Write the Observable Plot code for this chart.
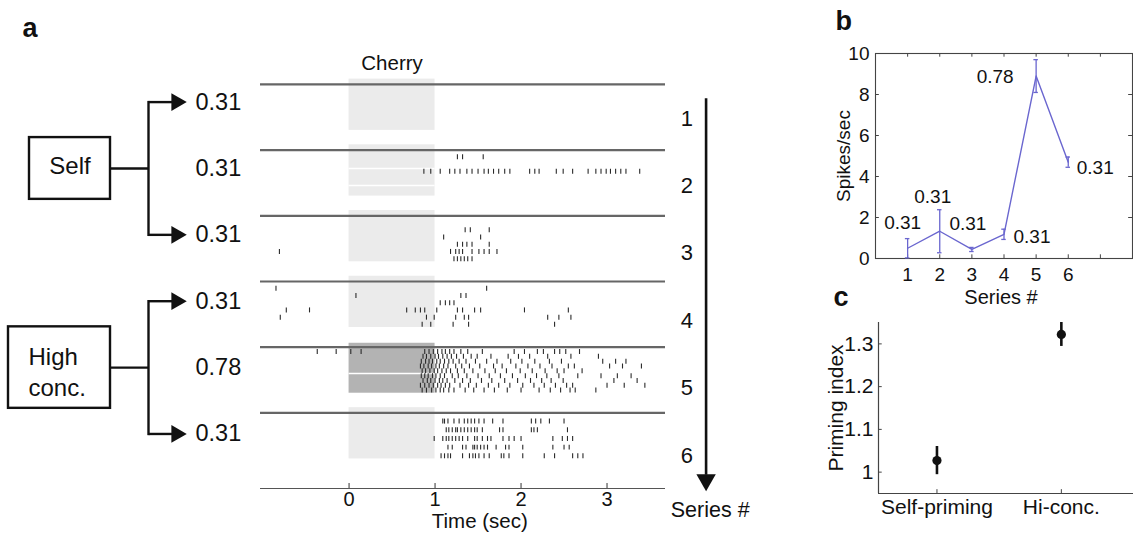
<!DOCTYPE html>
<html><head><meta charset="utf-8">
<script src="https://cdn.jsdelivr.net/npm/d3@7"></script>
<script src="https://cdn.jsdelivr.net/npm/@observablehq/plot@0.6"></script>
<style>
body{margin:0;background:#fff;}
#fig{position:relative;width:1133px;height:536px;overflow:hidden;background:#fff;}
#fig svg{position:absolute;left:0;top:0;}
</style></head><body><div id="fig"></div>
<script>
// ---------------- DATA ----------------
const seriesNums = [1, 2, 3, 4, 5, 6];
const concentrations = ["0.31", "0.31", "0.31", "0.31", "0.78", "0.31"];
const trialCounts = [6, 6, 6, 6, 9, 5];

const spikesSeries1 = [[], [], [], [], [], []];
const spikesSeries2 = [
  [1.26, 1.32, 1.56],
  [],
  [0.87, 0.95, 1.06, 1.17, 1.23, 1.29, 1.37, 1.43, 1.50, 1.57, 1.62, 1.68, 1.74, 1.81, 1.87, 2.10, 2.16, 2.21, 2.41, 2.49, 2.60, 2.78, 2.87, 2.93, 2.99, 3.04, 3.10, 3.16, 3.22, 3.38],
  [], [], []
];
const spikesSeries3 = [
  [],
  [1.35, 1.41, 1.63],
  [1.10, 1.53],
  [1.26, 1.32, 1.37, 1.43, 1.63],
  [-0.81, 1.18, 1.24, 1.28, 1.32, 1.43, 1.51, 1.57, 1.63, 1.72],
  [1.22, 1.26, 1.30, 1.34, 1.38, 1.43]
];
const spikesSeries4 = [
  [-0.85, 1.60],
  [0.08, 1.30, 1.36],
  [1.06, 1.12, 1.17, 1.22],
  [-0.73, -0.46, 0.67, 0.77, 0.83, 0.88, 1.02, 1.26, 1.32, 1.46, 1.53, 2.04, 2.55],
  [-0.80, 0.90, 0.99, 1.24, 1.34, 1.39, 2.31, 2.44, 2.58],
  [0.85, 0.95, 1.21, 1.39, 2.39]
];
const spikesSeries5 = [
  [-0.37, -0.15, 0.02, 0.14, 0.88, 0.93, 0.98, 1.03, 1.08, 1.12, 1.17, 1.22, 1.30, 1.38, 1.55, 1.92, 2.04, 2.19, 2.26, 2.39, 2.45, 2.52, 2.68],
  [0.86, 0.90, 0.95, 1.00, 1.04, 1.09, 1.14, 1.19, 1.25, 1.33, 1.42, 1.49, 1.65, 1.85, 1.97, 2.10, 2.31, 2.58, 2.90],
  [0.84, 0.89, 0.93, 0.97, 1.02, 1.06, 1.11, 1.16, 1.21, 1.28, 1.36, 1.47, 1.60, 1.72, 1.88, 2.01, 2.16, 2.33, 2.47, 2.95, 3.10, 3.22],
  [0.83, 0.87, 0.92, 0.96, 1.01, 1.05, 1.10, 1.15, 1.24, 1.31, 1.40, 1.52, 1.68, 1.78, 1.94, 2.08, 2.22, 2.36, 2.55, 2.62, 3.03, 3.18, 3.40],
  [0.85, 0.89, 0.94, 0.99, 1.03, 1.08, 1.13, 1.18, 1.26, 1.34, 1.44, 1.58, 1.70, 1.83, 1.99, 2.13, 2.28, 2.42, 2.50, 2.71],
  [0.84, 0.88, 0.92, 0.97, 1.01, 1.06, 1.11, 1.20, 1.27, 1.37, 1.50, 1.63, 1.76, 1.90, 2.05, 2.18, 2.30, 2.44, 2.66, 2.93, 3.12, 3.28],
  [0.86, 0.91, 0.95, 1.00, 1.05, 1.09, 1.14, 1.23, 1.32, 1.41, 1.54, 1.66, 1.81, 1.96, 2.11, 2.24, 2.35, 2.49, 3.08, 3.35],
  [0.83, 0.88, 0.93, 0.98, 1.03, 1.07, 1.12, 1.17, 1.29, 1.39, 1.48, 1.62, 1.74, 1.87, 2.02, 2.15, 2.27, 2.40, 2.53, 2.60, 3.00, 3.20, 3.44],
  [0.85, 0.90, 0.96, 1.01, 1.06, 1.10, 1.16, 1.22, 1.35, 1.45, 1.57, 1.69, 1.84, 2.00, 2.21, 2.34, 2.46, 2.57, 2.63, 2.87]
];
const spikesSeries6 = [
  [1.09, 1.11, 1.15, 1.22, 1.28, 1.34, 1.38, 1.42, 1.46, 1.51, 1.57, 1.67, 1.79, 2.12, 2.17, 2.23, 2.33, 2.50],
  [1.13, 1.16, 1.20, 1.24, 1.26, 1.30, 1.34, 1.38, 1.42, 1.46, 1.49, 1.55, 1.75, 1.79, 2.12, 2.15, 2.19, 2.54],
  [0.99, 1.09, 1.13, 1.16, 1.20, 1.24, 1.28, 1.32, 1.38, 1.46, 1.49, 1.55, 1.61, 1.65, 1.79, 1.86, 1.92, 2.00, 2.37, 2.48, 2.54, 2.60],
  [1.15, 1.20, 1.32, 1.36, 1.44, 1.46, 1.49, 1.53, 1.57, 1.61, 1.71, 1.82, 1.86, 2.02, 2.37, 2.50, 2.56],
  [1.07, 1.11, 1.15, 1.18, 1.32, 1.40, 1.44, 1.47, 1.51, 1.57, 1.63, 1.77, 1.80, 1.86, 2.02, 2.27, 2.39, 2.60, 2.66, 2.72]
];
const stimulusWindow = [0, 1];          // "Cherry" odor on, seconds
const timeTicks = [0, 1, 2, 3];

const meanRate = [0.50, 1.33, 0.44, 1.18, 8.90, 4.70];
const rateErr  = [0.47, 1.05, 0.10, 0.25, 0.80, 0.25];
const rateTicksY = [0, 2, 4, 6, 8, 10];
const rateTicksX = [1, 2, 3, 4, 5, 6];
const rateTickMarksX = [1, 2, 3, 4, 5, 6, 7];

const primingGroups = ["Self-priming", "Hi-conc."];
const primingIndex = [1.027, 1.322];
const primingErr = [0.033, 0.028];
const primingTicks = [1, 1.1, 1.2, 1.3];
const primingTickLabels = ["1", "1.1", "1.2", "1.3"];

const cueGroups = [
  {label: "Self", from: 1, mid: 2, to: 3},
  {label: "High\nconc.", from: 4, mid: 5, to: 6}
];

// ---------------- LAYOUT / STYLE ----------------
const FONT = "'Liberation Sans', Arial, Helvetica, sans-serif";
const INK = "#111";
const W = 1133, H = 536;
const tRange = [-1.03, 3.68];
const yDomA = [0.5, 7.15];
const marginsA = {marginTop: 51, marginBottom: 48};
const rowSpan = 0.66;
const labelRow = s => s + 0.27 + 0.01 * (s - 1);
const seriesNumRow = s => s + 0.52 + 0.026 * (s - 1);
const baseStyle = {fontFamily: FONT, background: "transparent", overflow: "visible", color: INK};
const fig = document.getElementById("fig");

const allSpikes = [spikesSeries1, spikesSeries2, spikesSeries3, spikesSeries4, spikesSeries5, spikesSeries6];
const spikeRows = [];
allSpikes.forEach((trials, i) => {
  const s = i + 1, n = trialCounts[i];
  trials.forEach((times, k) => times.forEach(t => spikeRows.push({s, t, row: s + (k + 1) * rowSpan / n})));
});
const shadeGaps = [{s: 2, off: 0.28}, {s: 2, off: 0.54}, {s: 5, off: 0.40}];

// ---------------- Diagram (left) ----------------
const boxLeft = [29, 8], boxRight = 110, boxHalf = [0.47, 0.62];
const arrowTargets = cueGroups.flatMap(g => [g.from, g.to]);
const diagram = Plot.plot({
  width: W, height: H, marginLeft: 0, marginRight: 0, ...marginsA,
  x: {type: "identity", axis: null}, y: {domain: yDomA, reverse: true, axis: null},
  style: baseStyle,
  marks: [
    Plot.text(["a"], {x: 22, y: 0.15, text: d => d, textAnchor: "start", fontSize: 27, fontWeight: "bold", fill: INK}),
    Plot.rect(cueGroups, {x1: (g, i) => boxLeft[i], x2: boxRight, y1: (g, i) => labelRow(g.mid) - boxHalf[i], y2: (g, i) => labelRow(g.mid) + boxHalf[i], fill: "white", stroke: INK, strokeWidth: 2.4}),
    Plot.link(cueGroups, {x1: boxRight, x2: 148, y1: g => labelRow(g.mid), y2: g => labelRow(g.mid), stroke: INK, strokeWidth: 2.4}),
    Plot.link(cueGroups, {x1: 148, x2: 148, y1: g => labelRow(g.from), y2: g => labelRow(g.to), stroke: INK, strokeWidth: 2.4, strokeLinecap: "square"}),
    Plot.link(arrowTargets, {x1: 148, x2: 172, y1: s => labelRow(s), y2: s => labelRow(s), stroke: INK, strokeWidth: 2.4}),
    Plot.dot(arrowTargets, {x: 176, y: s => labelRow(s), symbol: "triangle", rotate: 90, r: 6.6, fill: INK}),
    Plot.text(cueGroups.slice(0, 1), {x: 69.5, y: g => labelRow(g.mid) - 0.04, text: "label", fontSize: 24, fill: INK}),
    Plot.text(cueGroups.slice(1), {x: 28, y: g => labelRow(g.mid) + 0.04, text: "label", textAnchor: "start", fontSize: 24, lineHeight: 1.3, fill: INK}),
    Plot.text(seriesNums, {x: 195, y: s => labelRow(s), text: s => concentrations[s - 1], textAnchor: "start", fontSize: 23.5, fill: INK})
  ]
});
fig.append(diagram);

// ---------------- Panel a raster ----------------
const panelA = Plot.plot({
  width: W, height: H, marginLeft: 260, marginRight: W - 665, ...marginsA,
  x: {domain: tRange, axis: null}, y: {domain: yDomA, reverse: true, axis: null},
  style: baseStyle,
  marks: [
    Plot.rect(seriesNums.filter(s => s !== 5), {x1: stimulusWindow[0], x2: stimulusWindow[1], y1: s => s - 0.08, y2: s => s + 0.70, fill: "#ebebeb"}),
    Plot.rect(seriesNums.filter(s => s === 5), {x1: stimulusWindow[0], x2: stimulusWindow[1], y1: s => s - 0.06, y2: s => s + 0.70, fill: "#b3b3b3"}),
    Plot.ruleY(shadeGaps, {y: d => d.s + d.off, x1: stimulusWindow[0], x2: stimulusWindow[1], stroke: "white", strokeWidth: 1.5}),
    Plot.ruleY(seriesNums, {y: s => s, x1: tRange[0], x2: tRange[1], stroke: "#666", strokeWidth: 2.2}),
    Plot.ruleX(spikeRows, {x: "t", y1: d => d.row - 0.038, y2: d => d.row + 0.038, stroke: "#2a2a2a", strokeWidth: 1.1}),
    Plot.text(["Cherry"], {x: 0.5, y: 0.68, text: d => d, fontSize: 20.5, fill: INK}),
    Plot.ruleY([yDomA[1]], {y: d => d, x1: tRange[0], x2: tRange[1], stroke: "#555", strokeWidth: 1.2}),
    Plot.ruleX(timeTicks, {x: d => d, y1: yDomA[1] - 0.075, y2: yDomA[1], stroke: "#555", strokeWidth: 1.2}),
    Plot.text(timeTicks, {x: d => d, y: 7.32, text: d => String(d), fontSize: 20, fill: INK}),
    Plot.text(["Time (sec)"], {x: 1.52, y: 7.655, text: d => d, fontSize: 20.5, fill: INK}),
    Plot.ruleX([4.152], {x: d => d, y1: 1.218, y2: 6.95, stroke: INK, strokeWidth: 2.6}),
    Plot.dot([4.152], {x: d => d, y: 7.02, symbol: "triangle", rotate: 180, r: 7.2, fill: INK}),
    Plot.text(seriesNums, {x: 3.93, y: s => seriesNumRow(s), text: s => String(s), fontSize: 22, fill: INK}),
    Plot.text(["Series #"], {x: 4.2, y: 7.484, text: d => d, fontSize: 21.5, fill: INK})
  ]
});
fig.append(panelA);

// ---------------- Panel b ----------------
const BLUE = "#6a66cf";
const rates = seriesNums.map((s, i) => ({s, m: meanRate[i], e: rateErr[i], c: concentrations[i]}));
const rateLabelOffsets = [[-5, -25], [-7, -34], [-4, -26], [28, 3], [-41, 1], [27, 6]];
const panelB = Plot.plot({
  width: W, height: H, marginLeft: 875, marginRight: 1, marginTop: 53, marginBottom: H - 258,
  x: {domain: [0, 8], axis: null}, y: {domain: [0, 10], axis: null},
  style: baseStyle,
  marks: [
    Plot.frame({stroke: "#444", strokeWidth: 1.1}),
    Plot.ruleY(rateTicksY, {y: d => d, x1: 0, x2: 0.12, stroke: "#444"}),
    Plot.ruleY(rateTicksY, {y: d => d, x1: 7.88, x2: 8, stroke: "#444"}),
    Plot.ruleX(rateTickMarksX, {x: d => d, y1: 0, y2: 0.18, stroke: "#444"}),
    Plot.ruleX(rateTickMarksX, {x: d => d, y1: 9.82, y2: 10, stroke: "#444"}),
    Plot.text(rateTicksY, {x: 0, y: d => d, text: d => String(d), textAnchor: "end", dx: -6, fontSize: 19, fill: INK}),
    Plot.text(rateTicksX, {x: d => d, y: 0, dy: 16.5, text: d => String(d), fontSize: 19, fill: INK}),
    Plot.ruleX(rates, {x: "s", y1: d => d.m - d.e, y2: d => d.m + d.e, stroke: BLUE, strokeWidth: 1.3}),
    Plot.ruleY(rates, {y: d => d.m - d.e, x1: d => d.s - 0.07, x2: d => d.s + 0.07, stroke: BLUE, strokeWidth: 1.3}),
    Plot.ruleY(rates, {y: d => d.m + d.e, x1: d => d.s - 0.07, x2: d => d.s + 0.07, stroke: BLUE, strokeWidth: 1.3}),
    Plot.line(rates, {x: "s", y: "m", stroke: BLUE, strokeWidth: 1.4}),
    ...rates.map((d, i) => Plot.text([d], {x: "s", y: "m", text: "c", dx: rateLabelOffsets[i][0], dy: rateLabelOffsets[i][1], fontSize: 19, fill: INK})),
    Plot.text(["Spikes/sec"], {frameAnchor: "left", dx: -32, rotate: -90, textAnchor: "middle", lineAnchor: "middle", text: d => d, fontSize: 19, fill: INK}),
    Plot.text(["Series #"], {frameAnchor: "bottom", dy: 39, dx: -3, lineAnchor: "middle", text: d => d, fontSize: 20, fill: INK}),
    Plot.text(["b"], {frameAnchor: "top-left", dx: -40, dy: -32, text: d => d, textAnchor: "start", lineAnchor: "middle", fontSize: 27, fontWeight: "bold", fill: INK})
  ]
});
fig.append(panelB);

// ---------------- Panel c ----------------
const priming = primingGroups.map((g, i) => ({g, x: i + 1, v: primingIndex[i], e: primingErr[i]}));
const xDomC = [0.53, 2.58], yDomC = [0.95, 1.35];
const panelC = Plot.plot({
  width: W, height: H, marginLeft: 878, marginRight: 0, marginTop: 322, marginBottom: H - 493,
  x: {domain: xDomC, axis: null}, y: {domain: yDomC, axis: null},
  style: baseStyle,
  marks: [
    Plot.ruleX([xDomC[0]], {x: d => d, stroke: "#444", strokeWidth: 1.2}),
    Plot.ruleY([yDomC[0]], {y: d => d, stroke: "#444", strokeWidth: 1.2}),
    Plot.ruleY(primingTicks, {y: d => d, x1: xDomC[0], x2: xDomC[0] + 0.03, stroke: "#444"}),
    Plot.ruleX(priming, {x: "x", y1: yDomC[0], y2: yDomC[0] + 0.009, stroke: "#444"}),
    Plot.text(primingTicks, {x: xDomC[0], y: d => d, text: (d, i) => primingTickLabels[i], textAnchor: "end", dx: -5, fontSize: 21, fill: INK}),
    Plot.text(priming, {x: "x", y: yDomC[0], dy: 14, text: "g", fontSize: 21, fill: INK}),
    Plot.ruleX(priming, {x: "x", y1: d => d.v - d.e, y2: d => d.v + d.e, stroke: INK, strokeWidth: 2.6}),
    Plot.dot(priming, {x: "x", y: "v", r: 4.6, fill: INK}),
    Plot.text(["Priming index"], {frameAnchor: "left", dx: -42, rotate: -90, textAnchor: "middle", lineAnchor: "middle", text: d => d, fontSize: 21, fill: INK}),
    Plot.text(["c"], {frameAnchor: "top-left", dx: -45, dy: -25, text: d => d, textAnchor: "start", lineAnchor: "middle", fontSize: 27, fontWeight: "bold", fill: INK})
  ]
});
fig.append(panelC);
</script></body></html>
